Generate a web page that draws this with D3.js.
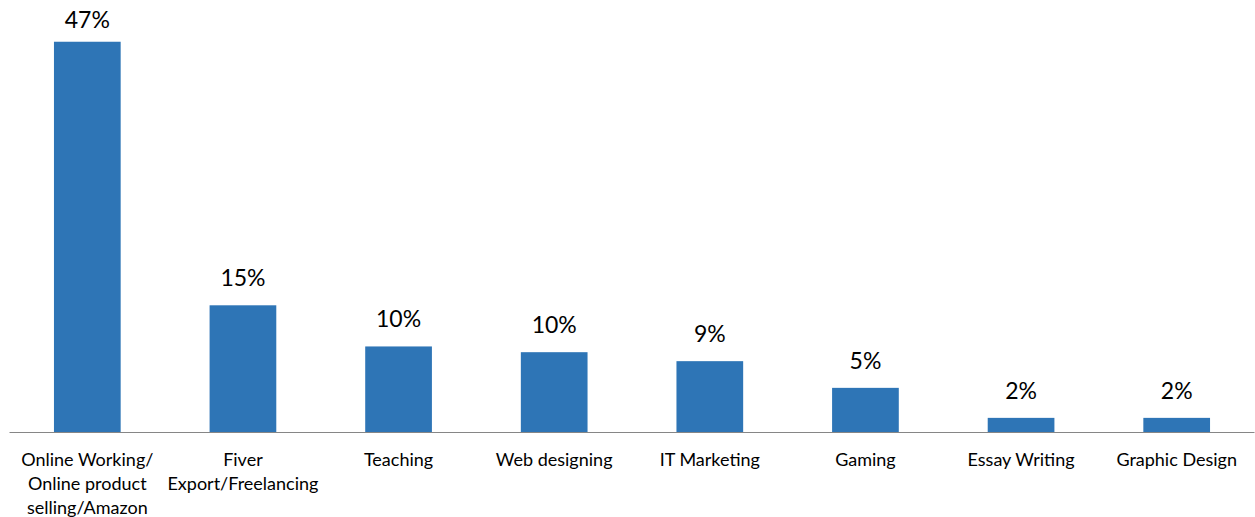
<!DOCTYPE html>
<html>
<head>
<meta charset="utf-8">
<script src="https://cdn.jsdelivr.net/npm/d3@7"></script>
<style>
  html, body { margin: 0; padding: 0; background: #fff; }
  svg { display: block; }
</style>
</head>
<body>
<svg id="chart" width="1255" height="517"></svg>
<script>
// Share of respondents by online income source
const categories = [
  "Online Working/\nOnline product\nselling/Amazon",
  "Fiver\nExport/Freelancing",
  "Teaching",
  "Web designing",
  "IT Marketing",
  "Gaming",
  "Essay Writing",
  "Graphic Design"
];
const shares = [0.470, 0.153, 0.1035, 0.0966, 0.0858, 0.0537, 0.0176, 0.0176];
const yDomain = [0, 0.5];

const W = 1255, H = 517;
const baseline = 432.5;
const svg = d3.select("#chart");

const x = d3.scaleBand()
  .domain(categories)
  .range([9.5, 1254.5])
  .paddingInner(0.5714)
  .paddingOuter(0.2857);

const y = d3.scaleLinear()
  .domain(yDomain)
  .range([baseline, 16.8]);

const fmt = d3.format(".0%");
const data = categories.map((c, i) => ({ cat: c, v: shares[i] }));

// bars
svg.append("g").selectAll("rect")
  .data(data)
  .join("rect")
  .attr("x", d => x(d.cat))
  .attr("y", d => y(d.v))
  .attr("width", x.bandwidth())
  .attr("height", d => baseline - y(d.v))
  .attr("fill", "#2E75B6");

// category axis line
svg.append("line")
  .attr("x1", x.range()[0]).attr("x2", x.range()[1])
  .attr("y1", baseline).attr("y2", baseline)
  .attr("stroke", "#868686").attr("stroke-width", 1);

// value labels
svg.append("g").selectAll("text")
  .data(data)
  .join("text")
  .attr("x", d => x(d.cat) + x.bandwidth() / 2)
  .attr("y", d => Math.max(y(d.v) - 19, 28.3))
  .attr("text-anchor", "middle")
  .attr("font-family", "Lato, 'Open Sans', sans-serif")
  .attr("font-size", 23)
  .attr("fill", "#000")
  .text(d => fmt(d.v));

// category labels
const labels = svg.append("g").selectAll("text")
  .data(data)
  .join("text")
  .attr("x", d => x(d.cat) + x.bandwidth() / 2)
  .attr("y", 466)
  .attr("text-anchor", "middle")
  .attr("font-family", "Lato, 'Open Sans', sans-serif")
  .attr("font-size", 18)
  .attr("fill", "#000");

labels.selectAll("tspan")
  .data(d => d.cat.split("\n"))
  .join("tspan")
  .attr("x", function() { return d3.select(this.parentNode).attr("x"); })
  .attr("dy", (d, i) => i === 0 ? 0 : 24)
  .text(d => d);
</script>
</body>
</html>
